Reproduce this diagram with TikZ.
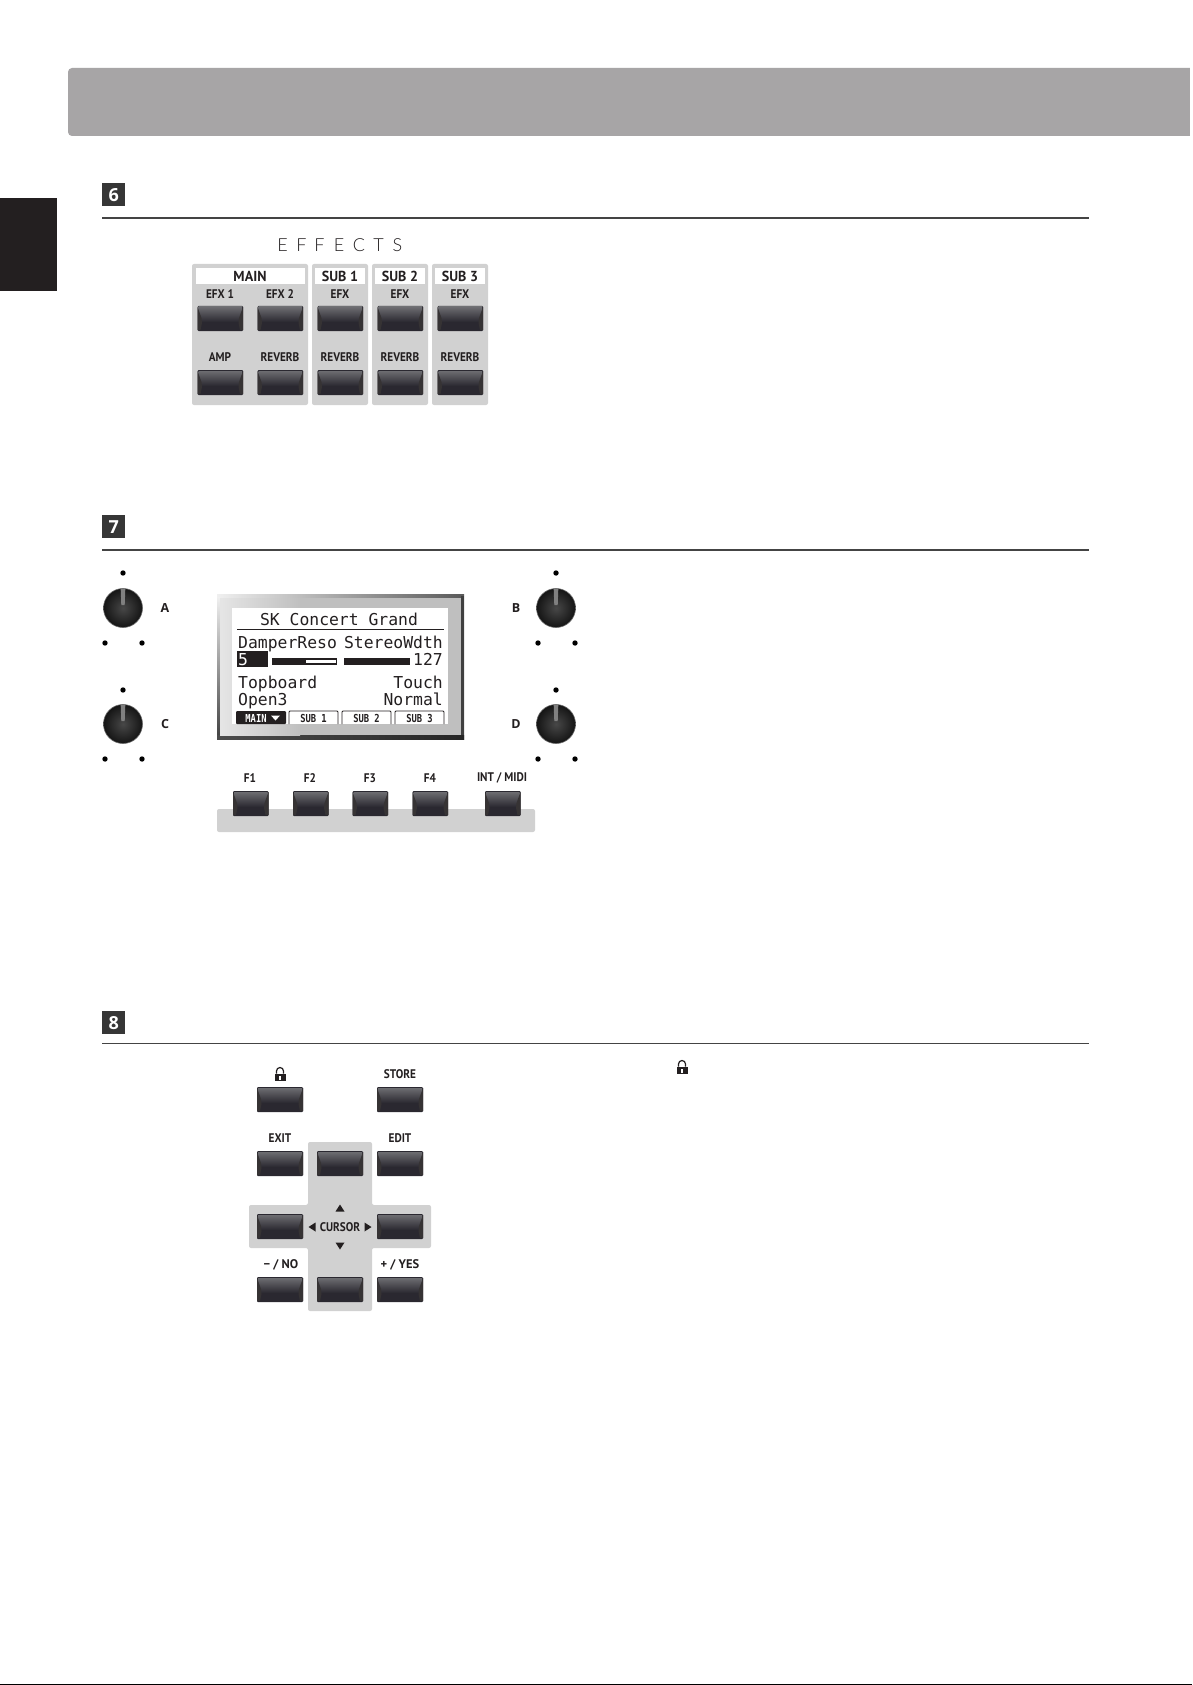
\documentclass[tikz,border=0pt]{standalone}
\usepackage{fontspec}
\setmainfont{Fira Sans}
\newfontfamily\lcdf{DejaVu Sans Mono}
\newfontfamily\lblf{PT Sans}
\newfontfamily\numf{Open Sans}
\definecolor{panelgrey}{HTML}{D1D1D1}
\definecolor{headgrey}{HTML}{A7A5A6}
\definecolor{inkdark}{HTML}{231F20}
\definecolor{rulegrey}{HTML}{444444}
\definecolor{btndark}{HTML}{2A2830}
\definecolor{btnwedge}{HTML}{363334}
\definecolor{btntop}{HTML}{6C6C70}
\tikzset{
  x=1pt,y=-1pt,
  panelbox/.style={fill=panelgrey,rounded corners=2pt,draw=none},
  whitelab/.style={fill=white,draw=none},
  lab/.style={font=\lblf\bfseries\fontsize{12.5}{13}\selectfont,text=inkdark,inner sep=0pt,anchor=center},
  lcdtxt/.style={font=\lcdf\fontsize{16.4}{17}\selectfont,text=inkdark,inner sep=0pt,anchor=base},
  tabtxt/.style={font=\lcdf\bfseries\fontsize{11}{11}\selectfont,inner sep=0pt},
  numbox/.style={fill=rulegrey!80!black,text=white,minimum width=23pt,minimum height=23pt,inner sep=0pt,font=\numf\bfseries\fontsize{18}{18}\selectfont},
  dotm/.style={circle,fill=black,minimum size=5.4pt,inner sep=0pt},
  knoblab/.style={font=\numf\bfseries\fontsize{12.5}{12}\selectfont,text=inkdark,inner sep=0pt},
}
\newcommand{\nar}[1]{\scalebox{.9}[1]{#1}}
\newcommand{\btn}[3]{% x, y, width
  \fill[rounded corners=1pt,btndark] (#1,#2) rectangle ++(#3,25);
  \shade[top color=btntop,bottom color=btndark] (#1+1,#2+1) rectangle (#1+#3-1,#2+16);
  \fill[btnwedge] (#1,#2+1) -- (#1+4,#2+12) -- (#1+4.5,#2+17) -- (#1+3,#2+24) -- (#1,#2+24) -- cycle;
  \fill[btnwedge] (#1+#3,#2+1) -- (#1+#3-4,#2+12) -- (#1+#3-4.5,#2+17) -- (#1+#3-3,#2+24) -- (#1+#3,#2+24) -- cycle;
}
\newcommand{\knob}[2]{% cx, cy
  \shade[inner color=black!72!white,outer color=black!92!white,draw=black!60!white,line width=.6pt] (#1,#2) circle[radius=19.5];
  \fill[black!50!white] (#1-2.3,#2-19) -- (#1+2.3,#2-19) -- (#1+1.7,#2-3) -- (#1-1.7,#2-3) -- cycle;
}
\begin{document}
\begin{tikzpicture}
\useasboundingbox (0,0) rectangle (1192,1685);
\fill[white] (0,0) rectangle (1192,1685);
% header
\fill[headgrey,rounded corners=4pt] (68,68) -- (1300,68) -- (1300,136) -- (68,136) -- cycle;
\fill[white] (1190,60) rectangle (1320,140);
\fill[inkdark] (0,198) rectangle (57,291);
\fill[black] (0,1684) rectangle (1192,1685);
% section rules
\node[numbox,anchor=north west] (n6) at (102,183) {6};
\draw[rulegrey,line width=2pt] (102,218) -- (1089,218);
\node[numbox,anchor=north west] (n7) at (102,515) {7};
\draw[rulegrey,line width=1.6pt] (102,550) -- (1089,550);
\node[numbox,anchor=north west] (n8) at (102,1011) {8};
\draw[rulegrey,line width=1.2pt] (102,1043.5) -- (1089,1043.5);
% EFFECTS
\foreach \c/\xx in {E/282.5,F/301.5,F/319.5,E/339,C/359,T/378.5,S/397.5}
  \node[font=\fontsize{18}{18}\selectfont\fontspec{Lato Light},text=inkdark,inner sep=0pt] at (\xx,245) {\c};
\fill[panelbox] (192,264) rectangle (308,405);
\fill[panelbox] (312,264) rectangle (368,405);
\fill[panelbox] (372,264) rectangle (428,405);
\fill[panelbox] (432,264) rectangle (488,405);
\fill[whitelab] (196,268) rectangle (305,284);
\fill[whitelab] (315,268) rectangle (365,284);
\fill[whitelab] (375,268) rectangle (425,284);
\fill[whitelab] (435,268) rectangle (485,284);
\foreach \t/\xx in {MAIN/250,SUB 1/340,SUB 2/400,SUB 3/460}
  \node[lab,font=\lblf\bfseries\fontsize{14.5}{15}\selectfont] at (\xx,276) {\scalebox{.97}[1]{\t}};
\foreach \t/\xx in {EFX 1/220,EFX 2/280,EFX/340,EFX/400,EFX/460}
  \node[lab] at (\xx,294) {\nar{\t}};
\foreach \t/\xx in {AMP/220,REVERB/280,REVERB/340,REVERB/400,REVERB/460}
  \node[lab] at (\xx,357) {\nar{\t}};
\foreach \xx in {197.5,257.5,317.5,377.5,437.5} {\btn{\xx}{306}{45.5}\btn{\xx}{370}{45.5}}
% knobs
\knob{123}{608}\knob{123}{724}\knob{556}{608}\knob{556}{724}
\foreach \xx/\yy in {123/573,105/643,142/643,123/690,105/759,142/759,556/573,538/643,575/643,556/690,538/759,575/759}
  \node[dotm] at (\xx,\yy) {};
\node[knoblab] at (165,608) {A};
\node[knoblab] at (165,724) {C};
\node[knoblab] at (516,608) {B};
\node[knoblab] at (516,724) {D};
% LCD bezel
\shade[left color=black!6!white,right color=black!65!white] (217,594) rectangle (464,739);
\shade[top color=black!6!white,bottom color=black!75!white] (217,597) rectangle (220,739);
\fill[black!75!white] (461,596) rectangle (464,739);
\shade[left color=black!70!white,right color=black!85!white] (217,735) rectangle (464,739);
\shade[left color=black!10!white,right color=black!25!white] (220,598) rectangle (300,735);
\fill[black!25!white] (300,598) rectangle (461,735);
\fill[white] (232,608) rectangle (448,724);
\node[lcdtxt] at (339,625) {SK Concert Grand};
\draw[inkdark,line width=1.5pt] (237,629.5) -- (444,629.5);
\node[lcdtxt,anchor=base west] at (238,648) {DamperReso};
\node[lcdtxt,anchor=base east] at (443,648) {StereoWdth};
\fill[inkdark] (237,651) rectangle (268,667);
\node[lcdtxt,text=white,anchor=base west] at (238,665) {5};
\fill[inkdark] (272,658) rectangle (337,665);
\fill[white] (306,660) rectangle (336,663);
\fill[inkdark] (344,658) rectangle (410,665);
\node[lcdtxt,anchor=base east] at (443,665) {127};
\node[lcdtxt,anchor=base west] at (238,688) {Topboard};
\node[lcdtxt,anchor=base east] at (443,688) {Touch};
\node[lcdtxt,anchor=base west] at (238,705) {Open3};
\node[lcdtxt,anchor=base east] at (443,705) {Normal};
\fill[inkdark,rounded corners=1pt] (236,711) rectangle (286,724);
\node[tabtxt,text=white] at (256,718) {\scalebox{.8}[1]{MAIN}};
\fill[white] (271,715.5) -- (280,715.5) -- (275.5,720.5) -- cycle;
\foreach \a/\b/\t in {289/338/SUB 1,342/391/SUB 2,395/444/SUB 3} {
  \draw[inkdark,line width=.9pt,rounded corners=1pt] (\a,724) -- (\a,711) -- (\b,711) -- (\b,724);
  \node[tabtxt,text=inkdark] at ({(\a+\b)/2},718) {\scalebox{.8}[1]{\t}};
}
% F buttons
\fill[panelbox] (217,809) rectangle (535,832);
\foreach \t/\xx in {F1/250,F2/310,F3/370,F4/430,{INT / MIDI}/502}
  \node[lab] at (\xx,778) {\nar{\t}};
\foreach \xx in {233,293,352.5,412.5,485} {\btn{\xx}{791}{35.5}}
% section 8
\fill[panelbox] (308,1142) -- (372,1142) -- (372,1205) -- (431,1205) -- (431,1248) -- (372,1248) -- (372,1311) -- (308,1311) -- (308,1248) -- (249,1248) -- (249,1205) -- (308,1205) -- cycle;
\foreach \xx/\yy in {257/1087,377/1087,257/1151,317/1151,377/1151,257/1214,377/1214,257/1277,317/1277,377/1277}
  {\btn{\xx}{\yy}{46}}
\foreach \t/\xx/\yy in {STORE/400/1074,EXIT/280/1138,EDIT/400/1138,CURSOR/340/1227}
  \node[lab] at (\xx,\yy) {\nar{\t}};
\node[lab] at (281,1265) {− / NO};
\node[lab] at (400,1265) {+ / YES};
\fill[inkdark] (340,1204.5) -- (344.5,1211.5) -- (335.5,1211.5) -- cycle;
\fill[inkdark] (340,1249.5) -- (344.5,1242.5) -- (335.5,1242.5) -- cycle;
\fill[inkdark] (308.5,1227) -- (315.5,1222.5) -- (315.5,1231.5) -- cycle;
\fill[inkdark] (371.5,1227) -- (364.5,1222.5) -- (364.5,1231.5) -- cycle;
% locks
\foreach \xx/\yy in {280/1081,682/1074} {
  \fill[inkdark] (\xx-5.5,\yy-7.5) rectangle (\xx+5.5,\yy);
  \draw[inkdark,line width=1.2pt] (\xx-3.5,\yy-7.5) -- (\xx-3.5,\yy-10) arc[start angle=180,end angle=360,radius=3.5] -- (\xx+3.5,\yy-7.5);
  \fill[white] (\xx-.8,\yy-5.5) rectangle (\xx+.8,\yy-1.5);
}
\end{tikzpicture}
\end{document}
